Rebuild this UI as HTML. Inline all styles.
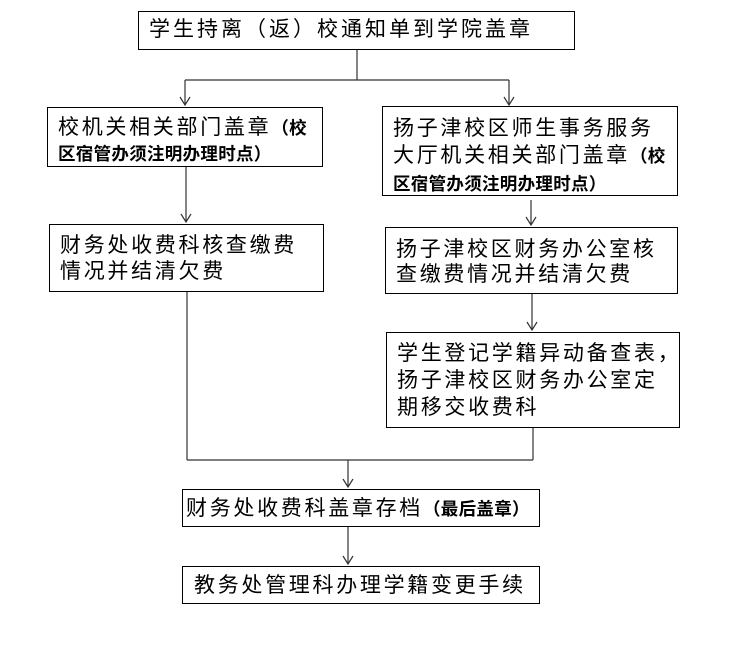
<!DOCTYPE html>
<html><head><meta charset="utf-8"><style>
body{margin:0;width:736px;height:665px;background:#fff;position:relative;overflow:hidden;font-family:"Liberation Sans","Noto Sans CJK SC",sans-serif;}
.b{position:absolute;border:1.3px solid #000;box-sizing:border-box;font-size:21px;line-height:25px;color:#000;padding:6px 0 0 10px;letter-spacing:2.7px;white-space:nowrap}
.s{font-size:17.5px;font-weight:bold;letter-spacing:0.3px}
svg{position:absolute;left:0;top:0}
</style></head><body>
<svg width="736" height="665">
<g stroke="#333" stroke-width="1.2" fill="none">
<path d="M357 50V80M185 80H509M185 80V105M509 80V105"/>
<path d="M186 167V222M531 200V225M532 294V330"/>
<path d="M187 292V460M533 428V460M187 460H533M348 460V487M348 527V564"/>
<path d="M180 97L185 105L190 97M504 97L509 105L514 97M181 214L186 222L191 214M526 217L531 225L536 217M527 322L532 330L537 322M343 479L348 487L353 479M343 556L348 564L353 556"/>
</g></svg>
<div class="b" style="left:138px;top:11px;width:437px;height:39px;padding:5px 0 0 10px;letter-spacing:3px">学生持离（返）校通知单到学院盖章</div>
<div class="b" style="left:47px;top:107px;width:276px;height:60px;padding:7px 0 0 10px;line-height:25px">校机关相关部门盖章<span class="s">（校<br>区宿管办须注明办理时点）</span></div>
<div class="b" style="left:382px;top:106px;width:296px;height:90px;padding:8px 0 0 10px;line-height:27px">扬子津校区师生事务服务<br>大厅机关相关部门盖章<span class="s">（校</span><br><span class="s" style="line-height:20px">区宿管办须注明办理时点）</span></div>
<div class="b" style="left:49px;top:224px;width:275px;height:68px;padding:8px 0 0 10px;line-height:26px">财务处收费科核查缴费<br>情况并结清欠费</div>
<div class="b" style="left:385px;top:227px;width:293px;height:67px;padding:9px 0 0 10px;line-height:25px">扬子津校区财务办公室核<br>查缴费情况并结清欠费</div>
<div class="b" style="left:386px;top:332px;width:294px;height:96px;padding:7px 0 0 10px;line-height:27px">学生登记学籍异动备查表，<br>扬子津校区财务办公室定<br>期移交收费科</div>
<div class="b" style="left:182px;top:489px;width:358px;height:38px;padding:6px 0 0 3px;letter-spacing:2.7px">财务处收费科盖章存档<span class="s">（最后盖章）</span></div>
<div class="b" style="left:182px;top:566px;width:358px;height:38px;padding:6px 0 0 11px;letter-spacing:2.7px">教务处管理科办理学籍变更手续</div>
</body></html>
